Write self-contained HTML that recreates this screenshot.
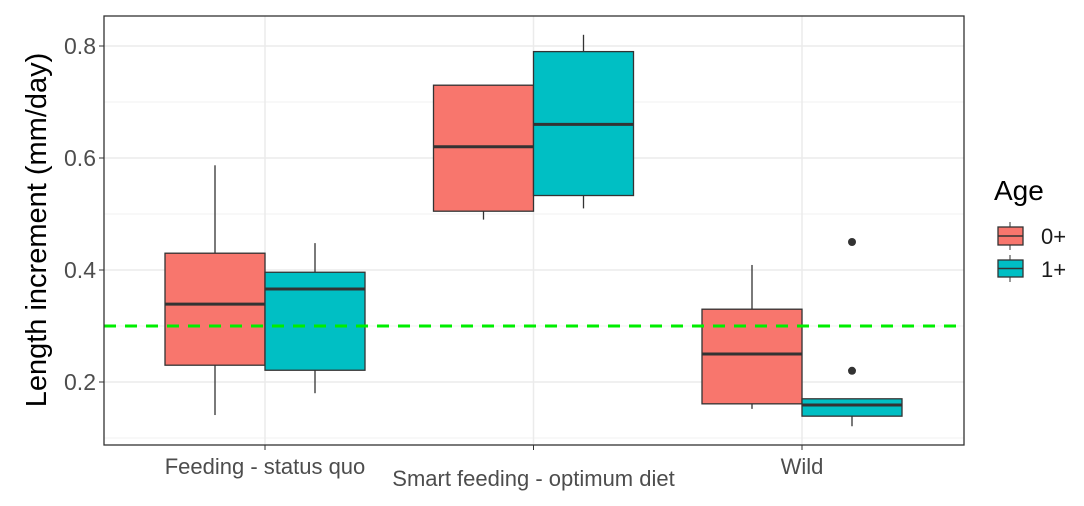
<!DOCTYPE html>
<html><head><meta charset="utf-8"><style>
body{margin:0;background:#fff;}
svg{display:block;font-family:"Liberation Sans",Arial,sans-serif;}
</style></head><body>
<svg id="chart" width="1084" height="506">
<g id="grid"></g>
<g id="boxes"></g>
<g id="axes"></g>
<text x="46" y="230" transform="rotate(-90 46 230)" text-anchor="middle" font-size="29" fill="#000">Length increment (mm/day)</text>
<g>
<text x="994" y="200" font-size="28" fill="#000">Age</text>
<g>
<line x1="1010" y1="222" x2="1010" y2="250" stroke="#333" stroke-width="1"/>
<rect x="998" y="227" width="25" height="18" fill="#F8766D" stroke="#333" stroke-width="1.3"/>
<line x1="998" y1="236" x2="1023" y2="236" stroke="#333" stroke-width="1.5"/>
<text x="1041" y="244" font-size="22" fill="#1a1a1a">0+</text></g>
<g>
<line x1="1010" y1="255" x2="1010" y2="282" stroke="#333" stroke-width="1"/>
<rect x="998" y="260" width="25" height="17" fill="#00BFC4" stroke="#333" stroke-width="1.3"/>
<line x1="998" y1="268.5" x2="1023" y2="268.5" stroke="#333" stroke-width="1.5"/>
<text x="1041" y="277" font-size="22" fill="#1a1a1a">1+</text></g>
</g>
</svg>
<script>
const categories=["Feeding - status quo","Smart feeding - optimum diet","Wild"];
const groups=["0+","1+"];
const colors=["#F8766D","#00BFC4"];
// [low, q1, median, q3, high] per category, per group
const stats0=[[0.141,0.23,0.339,0.43,0.587],[0.49,0.505,0.62,0.73,0.73],[0.152,0.161,0.25,0.33,0.409]];
const stats1=[[0.18,0.221,0.366,0.396,0.448],[0.51,0.533,0.66,0.79,0.82],[0.121,0.139,0.159,0.17,0.17]];
const outliers1=[[],[],[0.45,0.22]];
const outliers0=[[],[],[]];
const yTicks=[0.2,0.4,0.6,0.8];
const refLine=0.3;

const NS="http://www.w3.org/2000/svg";
const L=104,R=964,T=16,B=445;
const y=v=>382-(v-0.2)*560;
const xc=i=>265+i*268.5;
function mk(tag,attrs,parent){const e=document.createElementNS(NS,tag);for(const k in attrs)e.setAttribute(k,attrs[k]);parent.appendChild(e);return e;}
const grid=document.getElementById('grid'),boxes=document.getElementById('boxes'),axes=document.getElementById('axes');
for(let v=0.1;v<=0.85;v+=0.2){const g=mk('line',{x1:L,x2:R,y1:y(v),y2:y(v),stroke:'#f2f2f2','stroke-width':1},grid);

}
yTicks.forEach(v=>{const g=mk('line',{x1:L,x2:R,y1:y(v),y2:y(v),stroke:'#ebebeb','stroke-width':1.5},grid);


mk('line',{x1:L-5,x2:L,y1:y(v),y2:y(v),stroke:'#333','stroke-width':1},axes);
const t=mk('text',{x:L-8,y:y(v)+8,'text-anchor':'end','font-size':23,fill:'#4d4d4d'},axes);t.textContent=v.toFixed(1);

});
categories.forEach((c,i)=>{const g=mk('line',{x1:xc(i),x2:xc(i),y1:T,y2:B,stroke:'#ebebeb','stroke-width':1.5},grid);


mk('line',{x1:xc(i),x2:xc(i),y1:B,y2:B+5,stroke:'#333','stroke-width':1},axes);
const t=mk('text',{x:xc(i),y:i==1?486:474,'text-anchor':'middle','font-size':22,fill:'#4d4d4d'},axes);t.textContent=c;

});
function drawBox(s,cx,col,outs){
const g=mk('g',{},boxes);


mk('line',{x1:cx,x2:cx,y1:y(s[0]),y2:y(s[1]),stroke:'#333','stroke-width':1.3},g);
mk('line',{x1:cx,x2:cx,y1:y(s[3]),y2:y(s[4]),stroke:'#333','stroke-width':1.3},g);
mk('rect',{x:cx-50,y:y(s[3]),width:100,height:y(s[1])-y(s[3]),fill:col,stroke:'#333','stroke-width':1.3},g);
mk('line',{x1:cx-50,x2:cx+50,y1:y(s[2]),y2:y(s[2]),stroke:'#333','stroke-width':3},g);
outs.forEach(o=>{const p=mk('circle',{cx:cx,cy:y(o),r:4,fill:'#333'},g);

});}
categories.forEach((c,i)=>{drawBox(stats0[i],xc(i)-50,colors[0],outliers0[i]);drawBox(stats1[i],xc(i)+50,colors[1],outliers1[i]);});
const rl=mk('line',{x1:L,x2:R,y1:y(refLine),y2:y(refLine),stroke:'#00ee00','stroke-width':3,'stroke-dasharray':'12 9'},boxes);


const fr=mk('rect',{x:L,y:T,width:R-L,height:B-T,fill:'none',stroke:'#333','stroke-width':1.3},axes);


</script>
</body></html>
